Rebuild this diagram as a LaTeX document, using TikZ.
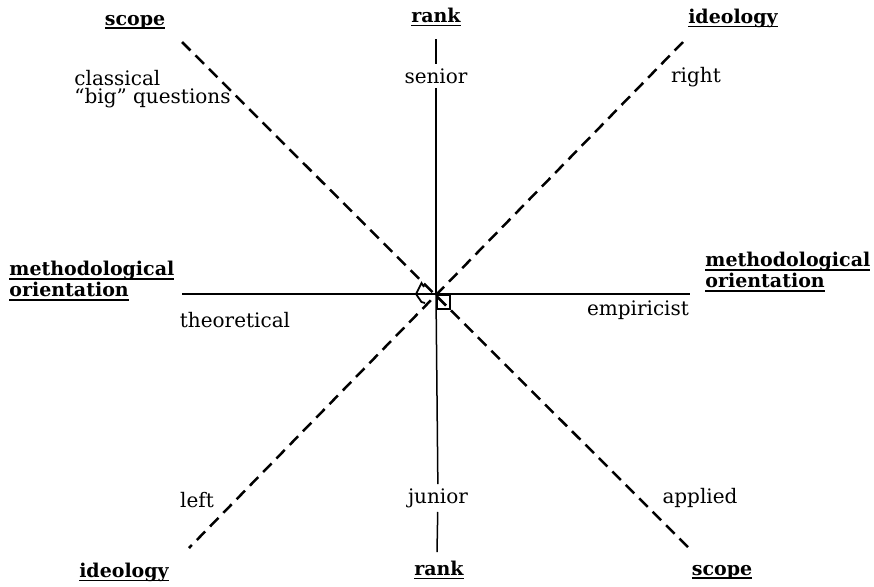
\documentclass[tikz,border=0pt]{standalone}
\usepackage{fontspec}
\setmainfont{DejaVu Serif}
\usetikzlibrary{positioning}
\newcommand{\poleul}[1]{\setbox0\hbox{#1}\rlap{\rule[-2pt]{\wd0}{0.8pt}}\box0}
\tikzset{
  axis/.style={line width=0.75pt},
  dashaxis/.style={line width=1.25pt, dash pattern=on 6pt off 3.5pt},
  pole/.style={font=\fontsize{9.5}{8.8}\selectfont\bfseries, inner sep=1pt, align=left},
  endlabel/.style={font=\fontsize{10}{9.2}\selectfont, inner sep=2pt, align=left},
  anglemark/.style={line width=0.9pt}
}

\begin{document}
\begin{tikzpicture}[x=0.5pt, y=-0.5pt]
  \useasboundingbox (0,0) rectangle (874,586);
  \coordinate (O) at (436,294);

  % dimension names at the ends
  \node[pole] (scopeT) at (135,22) {\poleul{scope}};
  \node[pole] (rankT) at (436,17) {\poleul{rank}};
  \node[pole] (ideoT) at (733,18) {\poleul{ideology}};
  \node[pole, anchor=west] (methL) at (7,281) {\poleul{methodological}\\\poleul{orientation}};
  \node[pole, anchor=west] (methR) at (703,272) {\poleul{methodological}\\\poleul{orientation}};
  \node[pole] (ideoB) at (124,572) {\poleul{ideology}};
  \node[pole] (rankB) at (439,570) {\poleul{rank}};
  \node[pole] (scopeB) at (722,572) {\poleul{scope}};

  % poles of each axis
  \node[endlabel, anchor=west] (classical) at (70,89) {classical\\``big'' questions};
  \node[endlabel] (senior) at (436,76) {senior};
  \node[endlabel] (right) at (696,77) {right};
  \node[endlabel] (theoretical) at (235,320) {theoretical};
  \node[endlabel] (empiricist) at (638,310) {empiricist};
  \node[endlabel] (left) at (197,500) {left};
  \node[endlabel] (junior) at (438,498) {junior};
  \node[endlabel] (applied) at (700,498) {applied};

  % free ends of the axes
  \coordinate (rankA) at (436,39);
  \coordinate (rankZ) at (437,552);
  \coordinate (methA) at (182,294);
  \coordinate (methZ) at (690,294);
  \coordinate (scopeA) at (182,42);
  \coordinate (scopeZ) at (693,552);
  \coordinate (ideoA) at (683,42);
  \coordinate (ideoZ) at (189,548);

  \draw[axis] (rankA) -- (senior);
  \draw[axis] (senior) -- (O);
  \draw[axis] (O) -- (junior);
  \draw[axis] (junior) -- (rankZ);
  \draw[axis] (methA) -- (methZ);
  \draw[dashaxis] (scopeA) -- (scopeZ);
  \draw[dashaxis] (ideoA) -- (ideoZ);

  % angle marks at the crossing
  \draw[anglemark] (424,287) -- (421.5,283) -- (416,294) -- (421.5,302) -- (425,303);
  \draw[anglemark] (437,295) rectangle (450,309);
\end{tikzpicture}
\end{document}
